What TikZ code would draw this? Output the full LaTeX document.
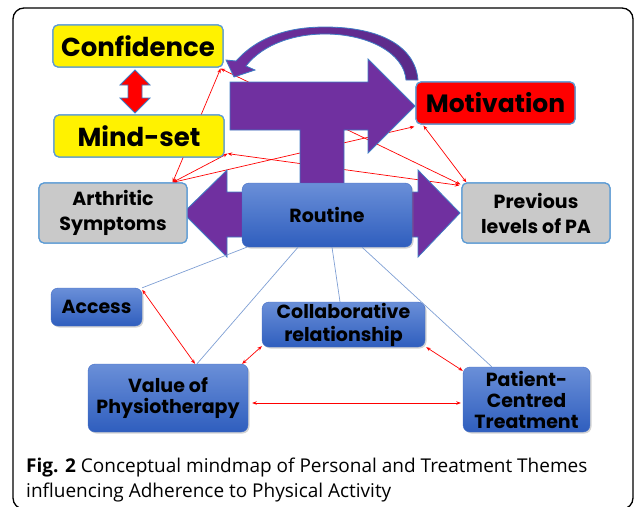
\documentclass[tikz,border=0pt]{standalone}
\usepackage{fontspec}
\setmainfont{Open Sans}
\newfontfamily\gothic{Poppins}
\usetikzlibrary{arrows.meta,calc,shadows}
\definecolor{boxblue}{HTML}{5B9BD5}
\definecolor{lgray}{HTML}{C9C9C9}
\definecolor{purp}{HTML}{7030A0}
\definecolor{purpdark}{HTML}{5A2A88}
\definecolor{arrowedge}{HTML}{3F7CC4}
\definecolor{bluetop}{HTML}{6A8FD8}
\definecolor{bluebot}{HTML}{2F5EBE}
\definecolor{linkblue}{HTML}{7F9FD4}
\tikzset{
  box/.style={draw=boxblue, line width=1.2pt, rounded corners=5pt, align=center, inner sep=0pt, text=black},
  ybox/.style={box, fill=yellow, font=\gothic\bfseries\fontsize{26}{30}\selectfont},
  rbox/.style={box, fill=red, font=\gothic\bfseries\fontsize{25}{30}\selectfont},
  gbox/.style={box, fill=lgray, font=\gothic\bfseries\fontsize{19}{25}\selectfont},
  bbox/.style={rounded corners=7pt, top color=bluetop, bottom color=bluebot, draw=bluebot!90!white, line width=0.4pt,
     drop shadow={shadow xshift=1.5pt, shadow yshift=-1.5pt, opacity=0.35}, align=center, inner sep=0pt,
     font=\gothic\bfseries\fontsize{19}{21}\selectfont, text=black},
  redlink/.style={draw=red, line width=0.7pt, {Stealth[length=4.5pt,width=3.5pt]}-{Stealth[length=4.5pt,width=3.5pt]}},
  bluelink/.style={draw=linkblue, line width=0.7pt},
  purpshape/.style={fill=purp, draw=arrowedge, line width=0.8pt, line join=miter},
  captext/.style={anchor=base west, inner sep=0pt, font=\fontsize{19}{22}\selectfont},
}
\begin{document}
\begin{tikzpicture}[x=1pt,y=-1pt]
\useasboundingbox (0,0) rectangle (634,506);
\begin{scope}
\clip (0,0) rectangle (634,506);
\draw[line width=1.3pt, rounded corners=11pt] (13,8) rectangle (633,509);
\end{scope}

% nodes (positions)
\path
  (138,46) node[ybox, minimum width=170pt, minimum height=42pt] (conf) {Confidence}
  (139,136) node[ybox, minimum width=170pt, minimum height=42pt] (mind) {Mind-set}
  (113,213) node[gbox, minimum width=148pt, minimum height=60pt] (arth) {Arthritic\\Symptoms}
  (536,213) node[gbox, minimum width=148pt, minimum height=60pt] (prev) {Previous\\levels of PA}
  (495.5,103) node[rbox, minimum width=159pt, minimum height=42pt] (motiv) {Motivation};

% red links behind
\draw[redlink] ($(conf.south east)+(-3,1)$) -- ($(arth.north east)+(-15,0)$);
\draw[redlink] ($(conf.south east)+(-3,1)$) -- ($(prev.north west)+(-1,2)$);
\draw[redlink] ($(mind.south east)+(3,-4)$) -- ($(prev.north west)+(-2,3)$);
\draw[redlink] ($(arth.north east)+(-15,0)$) -- ($(mind.south east)+(3,-4)$);
\draw[redlink] ($(arth.north east)+(-15,0)$) -- ($(motiv.south west)+(-1,2)$);
\draw[redlink] ($(motiv.south west)+(8,1)$) -- ($(prev.north west)+(5,0)$);

% purple arrows
\path[purpshape] (183,213) -- (227,170) -- (227,192) -- (418,192) -- (418,170) -- (460,213)
   -- (418,257) -- (418,237) -- (227,237) -- (227,257) -- cycle;
\path[purpshape] (230,82) -- (368,82) -- (368,59) -- (415,106) -- (368,153) -- (368,130)
   -- (344,130) -- (344,195) -- (300,195) -- (300,130) -- (230,130) -- cycle;
\path[left color=purp, right color=purpdark, draw=arrowedge, line width=0.8pt]
   (246,66) -- (255,70) -- (234,77) -- (226,60) -- (236,61)
   .. controls (262,32) and (298,27) .. (325,27)
   .. controls (378,27) and (415,45) .. (418,80) -- (406,80)
   .. controls (404,53) and (368,34) .. (325,34)
   .. controls (296,34) and (264,43) .. (246,66) -- cycle;

% red double arrow
\path[fill=red, draw=arrowedge, line width=0.8pt] (135,70) -- (150,85) -- (142,85) -- (142,98) -- (150,98)
   -- (135,113) -- (120,98) -- (128,98) -- (128,85) -- (120,85) -- cycle;

% redraw top nodes above links
\node[ybox, minimum width=170pt, minimum height=42pt] at (conf) {Confidence};
\node[ybox, minimum width=170pt, minimum height=42pt] at (mind) {Mind-set};
\node[gbox, minimum width=148pt, minimum height=60pt] at (arth) {Arthritic\\Symptoms};
\node[gbox, minimum width=148pt, minimum height=60pt] at (prev) {Previous\\levels of PA};
\node[rbox, minimum width=159pt, minimum height=42pt] at (motiv) {Motivation};

% blue boxes
\node[bbox, minimum width=170pt, minimum height=64pt] (rout) at (327,215) {Routine};
\node[bbox, minimum width=91pt, minimum height=38pt] (access) at (96.5,307) {Access};
\node[bbox, minimum width=160pt, minimum height=68pt] (value) at (168,398) {Value of\\Physiotherapy};
\node[bbox, minimum width=163pt, minimum height=45pt, font=\gothic\bfseries\fontsize{19}{23}\selectfont] (collab) at (343.5,324.5) {Collaborative\\relationship};
\node[bbox, minimum width=127pt, minimum height=65pt] (patient) at (526.5,399.5) {Patient-\\Centred\\Treatment};

% blue links
\draw[bluelink] ($(rout.south west)+(5,0)$) -- (access.north east);
\draw[bluelink] ($(rout.south)+(-29,0)$) -- ($(value.north)+(29,0)$);
\draw[bluelink] ($(rout.south)+(5,0)$) -- ($(collab.north)+(-3.5,0)$);
\draw[bluelink] ($(rout.south)+(35,0)$) -- ($(patient.north west)+(29,0)$);

% red links bottom
\draw[redlink] ($(access.north east)+(0,2)$) -- ($(value.north)+(27,0)$);
\draw[redlink] ($(value.north east)+(-6,0)$) -- ($(collab.south west)+(0,-1)$);
\draw[redlink] ($(collab.south east)+(1,0)$) -- ($(patient.north west)+(0,4)$);
\draw[redlink] ($(value.east)+(4,5)$) -- ($(patient.west)+(-2,3.5)$);

% caption
\node[captext] (cap1) at (26,472)
  {\textbf{Fig. 2} Conceptual mindmap of Personal and Treatment Themes};
\node[captext] (cap2) at (26,497)
  {influencing Adherence to Physical Activity};
\end{tikzpicture}
\end{document}
